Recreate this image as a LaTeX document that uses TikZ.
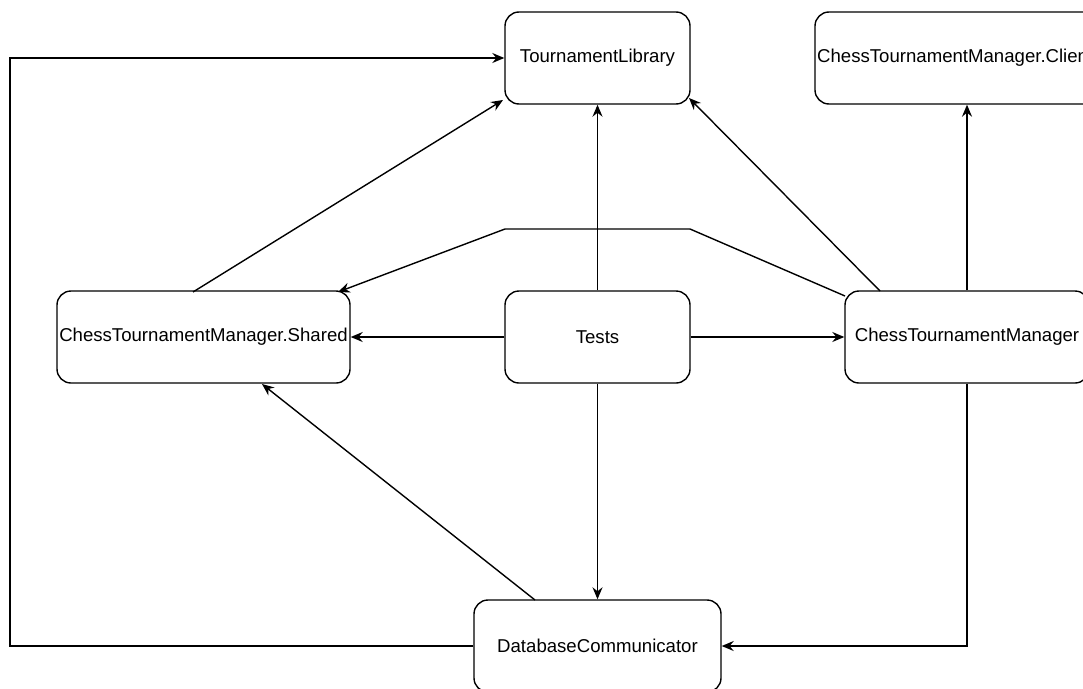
\documentclass[tikz,border=0pt]{standalone}
\usepackage{fontspec}
\setmainfont{Liberation Sans}
\usetikzlibrary{arrows.meta}
\begin{document}
\begin{tikzpicture}[x=1pt,y=-1pt,
  box/.style={draw, line width=1.4pt, rounded corners=14pt, minimum height=92pt, inner sep=0pt},
  lbl/.style={font=\fontsize{18.6}{22}\selectfont, inner sep=0pt},
  conn/.style={line width=1.4pt, -{Stealth[length=12pt,width=10pt,inset=4pt]}}]
\clip (0,0) rectangle (1083,688);
\useasboundingbox (0,0) rectangle (1083,688);
\node[box, lbl, minimum width=185pt] (tl) at (597.5,58) {TournamentLibrary};
\node[box, minimum width=304pt] (cl) at (967,58) {};
\node[lbl, anchor=west] (clt) at (817,58) {ChessTournamentManager.Client};
\node[box, lbl, minimum width=293pt] (sh) at (203.5,337) {ChessTournamentManager.Shared};
\node[box, lbl, minimum width=185pt] (te) at (597.5,337) {Tests};
\node[box, lbl, minimum width=244pt] (ct) at (967,337) {ChessTournamentManager};
\node[box, lbl, minimum width=247pt] (db) at (597.5,646) {DatabaseCommunicator};
\coordinate (c1) at (10,646);
\coordinate (c2) at (10,58);
\coordinate (c3) at (690,229);
\coordinate (c4) at (505,229);
\coordinate (c5) at (967,646);
% edges
\draw[conn] (db.west) -- (c1) -- (c2) -- (tl.west);
\draw[conn] (193,292) -- (503,100);
\draw[conn] (te.north) -- (tl.south);
\draw[conn] (880,291) -- (689,98);
\draw[conn] (ct.north) -- (cl.south);
\draw[conn] (845,296) -- (c3) -- (c4) -- (338,292);
\draw[conn] (te.west) -- (sh.east);
\draw[conn] (te.east) -- (ct.west);
\draw[conn] (te.south) -- (db.north);
\draw[conn] (535,600) -- (262,384);
\draw[conn] (ct.south) -- (c5) -- (db.east);
\end{tikzpicture}
\end{document}
